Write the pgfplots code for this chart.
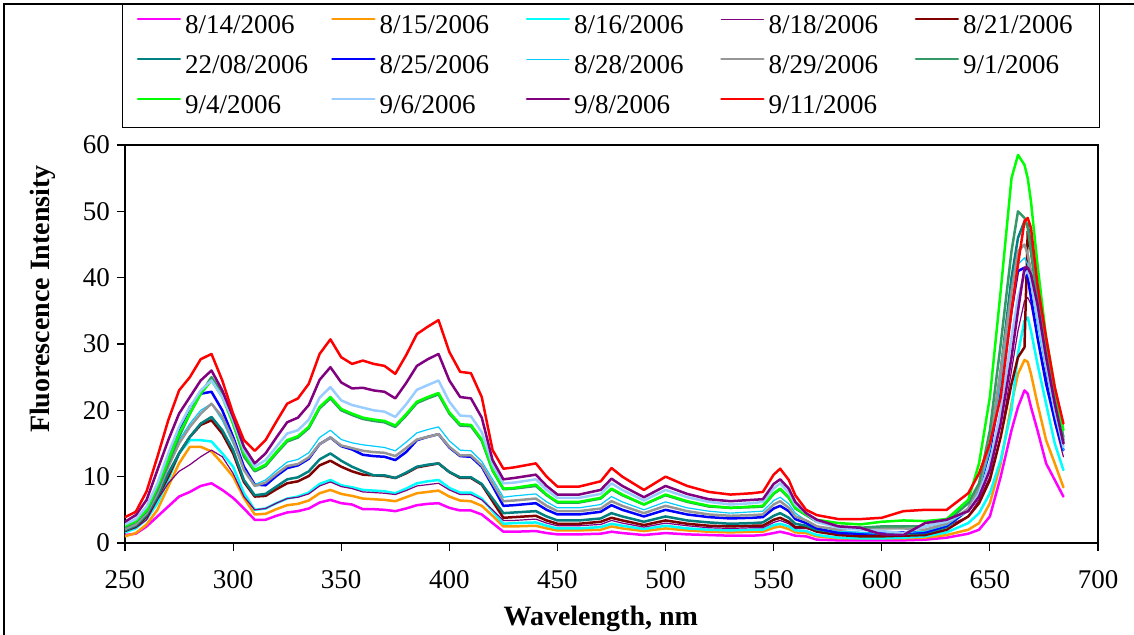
\documentclass[border=0pt]{standalone}
\usepackage{pgfplots}
\pgfplotsset{compat=1.18}
\usepackage{pgfplotstable}
\usepackage{fontspec}
\setmainfont{Liberation Serif}
\definecolor{cMag}{HTML}{FF00FF}
\definecolor{cOra}{HTML}{FF9900}
\definecolor{cCya}{HTML}{00FFFF}
\definecolor{cPts}{HTML}{800080}
\definecolor{cDre}{HTML}{800000}
\definecolor{cTea}{HTML}{008080}
\definecolor{cBlu}{HTML}{0000FF}
\definecolor{cSky}{HTML}{00CCFF}
\definecolor{cGra}{HTML}{969696}
\definecolor{cSea}{HTML}{339966}
\definecolor{cGre}{HTML}{00FF00}
\definecolor{cLbl}{HTML}{99CCFF}
\definecolor{cPur}{HTML}{800080}
\definecolor{cRed}{HTML}{FF0000}

\pgfplotstableread{
x     mag  ora  cya  pts  dre  tea  blu  sky  gra  sea  gre  lbl  pur  red
250   1.2  1.0  1.6  1.8  1.8  1.9  2.3  2.2  2.1  2.4  2.6  2.8  3.2  3.9
255   1.4  1.5  2.2  2.3  2.5  2.6  3.0  3.0  2.8  3.2  3.3  3.6  4.2  4.7
260   2.5  2.8  3.6  3.5  4.0  4.2  4.8  4.8  4.5  4.8  5.0  5.5  6.5  7.8
265   4.0  5.0  6.0  6.5  6.8  7.0  8.5  8.0  7.5  8.0  8.5  9.0  11.0 13.0
270   5.5  8.5  9.5  9.0  10.0 10.5 13.0 12.0 11.5 12.0 12.5 13.5 15.5 18.5
275   7.0  12.0 13.5 10.8 13.5 13.5 17.0 15.5 15.0 16.0 16.5 17.5 19.5 23.0
280   7.7  14.5 15.5 11.8 16.0 16.0 20.5 18.0 17.5 19.5 19.5 20.5 22.0 25.0
285   8.6  14.5 15.5 13.0 17.8 18.0 22.5 20.0 19.5 22.5 22.5 23.0 24.5 27.7
290   9.0  13.8 15.3 14.0 18.5 19.0 22.8 21.0 21.0 25.0 24.5 24.5 26.0 28.5
295   8.0  12.0 13.5 13.0 16.5 17.0 20.0 18.5 19.0 22.5 22.0 22.0 23.0 24.5
300   6.8  10.0 11.5 10.5 13.5 14.0 16.0 15.0 15.5 18.0 18.0 18.5 19.0 19.5
305   5.2  6.8  7.5  7.0  9.2  9.5  11.5 11.0 11.0 13.0 13.5 14.0 14.5 15.5
310   3.5  4.3  5.0  5.0  7.0  7.2  8.8  8.8  8.6  10.8 11.0 11.5 12.0 13.9
315   3.5  4.4  5.2  5.2  7.1  7.4  8.7  9.5  9.1  11.6 11.8 12.5 13.5 15.5
320   4.1  5.1  6.0  6.0  8.1  8.5  10.1 10.9 10.4 13.5 13.7 14.5 15.9 18.3
325   4.6  5.7  6.7  6.7  9.0  9.6  11.3 12.2 11.6 15.3 15.5 16.5 18.2 21.0
330   4.8  5.9  7.0  6.9  9.3  9.9  11.7 12.6 11.9 15.9 16.1 17.0 18.9 21.8
335   5.2  6.4  7.6  7.4  10.1 10.8 12.7 13.6 12.9 17.3 17.5 18.6 20.8 24.0
340   6.1  7.5  8.9  8.6  11.7 12.6 14.9 15.9 14.9 20.3 20.5 21.9 24.6 28.5
345   6.5  8.0  9.5  9.2  12.4 13.5 15.9 17.0 15.9 21.8 22.0 23.5 26.5 30.7
350   6.0  7.4  8.7  8.5  11.5 12.4 14.6 15.6 14.7 20.0 20.2 21.5 24.2 28.0
355   5.8  7.1  8.4  8.2  10.8 11.5 14.1 15.1 14.3 19.3 19.5 20.8 23.3 27.0
360   5.1  6.7  8.0  7.7  10.3 10.8 13.3 14.8 13.9 18.7 18.9 20.4 23.4 27.5
365   5.1  6.6  7.9  7.6  10.2 10.2 13.1 14.6 13.7 18.4 18.6 20.0 23.0 27.0
370   5.0  6.5  7.8  7.5  10.1 10.2 13.0 14.4 13.6 18.2 18.4 19.8 22.8 26.7
375   4.8  6.3  7.5  7.3  9.8  9.8  12.5 13.9 13.1 17.5 17.7 19.0 21.8 25.5
380   5.2  6.9  8.2  7.9  10.5 10.6 13.7 15.2 14.3 19.2 19.4 20.9 24.1 28.3
385   5.7  7.5  9.0  8.6  11.4 11.5 15.5 16.6 15.6 21.1 21.3 23.1 26.7 31.5
390   5.9  7.7  9.3  8.8  11.7 11.8 16.0 17.1 16.0 21.8 22.0 23.8 27.7 32.6
395   6.0  7.9  9.5  9.0  12.0 12.0 16.4 17.5 16.4 22.4 22.6 24.5 28.5 33.6
400   5.3  7.0  8.3  8.0  10.7 10.7 14.4 15.4 14.5 19.5 19.7 21.3 24.5 28.8
405   4.9  6.4  7.6  7.3  9.8  9.9  13.1 14.0 13.2 17.7 17.9 19.2 22.0 25.8
410   4.9  6.3  7.6  7.3  9.8  9.9  13.0 13.9 13.2 17.6 17.8 19.1 21.8 25.6
415   4.3  5.6  6.7  6.5  8.8  8.9  11.5 12.3 11.7 15.4 15.6 16.7 18.9 22.0
420   3.0  4.1  4.8  5.0  6.3  6.7  8.6  9.6  9.0  10.9 11.0 11.8 12.5 14.0
425   1.7  2.5  2.9  3.4  3.8  4.5  5.6  6.9  6.3  8.1  8.2  9.0  9.6  11.2
430   1.7  2.5  3.0  3.4  3.9  4.6  5.7  7.1  6.4  8.2  8.3  9.1  9.8  11.4
440   1.8  2.6  3.1  3.6  4.1  4.8  6.0  7.4  6.7  8.6  8.8  9.6  10.3 12.0
445   1.5  2.2  2.6  3.0  3.4  4.0  5.0  6.2  5.6  7.2  7.3  8.0  8.6  10.0
450   1.3  1.9  2.2  2.6  2.9  3.4  4.3  5.3  4.8  6.1  6.2  6.8  7.3  8.5
460   1.3  1.9  2.2  2.6  2.9  3.4  4.3  5.3  4.8  6.1  6.2  6.8  7.3  8.5
470   1.4  2.0  2.4  2.8  3.2  3.7  4.7  5.8  5.2  6.7  6.8  7.4  8.0  9.3
475   1.7  2.5  2.9  3.4  3.8  4.5  5.7  7.0  6.3  8.1  8.2  9.0  9.7  11.3
480   1.5  2.2  2.6  3.0  3.4  4.0  5.0  6.2  5.6  7.2  7.3  8.0  8.6  10.0
490   1.2  1.8  2.1  2.4  2.7  3.2  4.0  5.0  4.5  5.8  5.8  6.4  6.9  8.0
500   1.5  2.2  2.6  3.0  3.4  4.0  5.0  6.2  5.6  7.2  7.3  8.0  8.6  10.0
510   1.3  1.9  2.2  2.6  2.9  3.4  4.3  5.3  4.8  6.2  6.3  6.9  7.4  8.6
520   1.2  1.7  2.0  2.3  2.6  3.1  3.9  4.8  4.3  5.5  5.6  6.2  6.6  7.7
530   1.1  1.6  1.9  2.2  2.5  2.9  3.7  4.5  4.1  5.3  5.3  5.8  6.3  7.3
540   1.1  1.7  2.0  2.3  2.6  3.0  3.8  4.7  4.2  5.4  5.5  6.0  6.5  7.5
545   1.2  1.7  2.0  2.3  2.6  3.1  3.9  4.8  4.3  5.5  5.6  6.2  6.6  7.7
550   1.5  2.3  2.7  3.1  3.5  4.1  5.2  6.4  5.8  7.4  7.5  8.2  8.9  10.3
553   1.7  2.5  2.9  3.4  3.8  4.5  5.6  6.9  6.3  8.1  8.2  9.0  9.6  11.2
557   1.4  2.1  2.5  2.9  3.2  3.8  4.8  5.9  5.3  6.8  6.9  7.6  8.2  9.5
560   1.1  1.6  1.9  2.2  2.4  2.9  3.6  4.5  4.0  5.2  5.3  5.8  6.2  7.2
565   1.0  1.5  1.8  2.2  2.4  2.6  3.0  3.4  3.4  4.2  4.3  4.5  4.5  5.0
570   0.5  1.0  1.2  1.7  1.7  2.0  2.2  2.5  2.5  3.2  3.5  3.2  3.5  4.2
580   0.4  0.7  0.8  1.2  1.2  1.6  1.5  1.8  2.0  2.5  3.0  2.3  2.5  3.6
590   0.4  0.7  0.7  1.2  1.0  1.5  1.4  1.6  2.2  2.3  2.8  2.0  2.3  3.6
600   0.4  0.7  0.7  1.2  1.0  1.4  1.5  1.4  2.2  2.5  3.2  1.8  1.3  3.8
610   0.4  0.7  0.8  1.2  1.1  1.4  1.6  1.5  2.2  2.5  3.4  1.5  1.2  4.8
620   0.5  0.8  1.0  1.5  1.2  1.5  1.6  1.8  2.0  2.5  3.3  2.5  3.0  5.0
630   0.8  1.2  1.6  2.5  2.0  2.4  2.6  2.7  2.9  3.2  3.6  3.2  3.5  5.0
640   1.4  2.0  3.0  4.0  4.0  5.0  5.0  5.0  5.2  6.0  6.5  4.8  4.8  7.5
645   2.0  3.0  4.5  6.5  6.0  8.5  8.0  8.0  8.5  9.0  12.0 7.5  7.0  10.5
650   4.0  6.0  7.5  10.0 9.5  14.0 14.0 14.0 15.0 17.0 22.0 12.0 11.0 15.0
655   10.0 12.0 12.5 16.0 16.0 26.0 23.0 24.0 26.0 30.0 38.0 20.0 18.0 22.0
660   17.0 21.0 20.0 26.0 24.0 40.0 35.0 36.0 38.0 44.0 55.0 31.0 28.0 35.0
663   20.5 25.5 28.6 32.0 28.0 46.0 41.0 42.0 44.0 50.0 58.5 37.0 35.0 42.0
666   23.0 27.6 33.5 36.5 29.5 48.5 41.5 43.0 45.0 49.0 57.0 40.5 41.5 48.5
667.5 22.5 27.3 34.0 37.0 47.0 48.0 40.0 42.0 43.5 47.5 55.0 41.0 41.5 49.0
669   20.5 25.5 32.0 36.0 44.0 45.0 37.0 39.0 41.0 44.0 51.5 39.5 40.5 47.5
672   17.0 21.0 27.0 31.0 37.0 38.0 31.0 33.0 35.0 37.0 42.0 34.0 36.0 39.0
676   12.0 15.5 21.0 25.0 28.0 29.0 24.0 26.0 27.0 29.0 31.0 27.0 28.0 31.0
680   9.5  12.0 15.0 18.0 21.0 22.0 18.5 19.5 21.0 22.0 23.5 20.0 21.0 23.5
684   7.0  8.4  11.0 13.0 15.0 15.5 14.0 14.0 15.0 16.0 17.0 14.5 15.0 18.0
}\spectra

\newcommand{\lgd}[1]{\makebox[59pt][l]{#1}}

\begin{document}
\begin{tikzpicture}
\useasboundingbox (-62.5pt,-46pt) rectangle (504.5pt,271.5pt);
\begin{axis}[
  at={(0,0)}, anchor=south west,
  scale only axis, width=486.5pt, height=199pt,
  xmin=250, xmax=700, ymin=0, ymax=60,
  xtick={250,300,...,700}, ytick={0,10,...,60},
  tick align=outside, major tick length=4pt,
  xtick pos=bottom, ytick pos=left,
  axis line style={line width=0.6pt},
  every tick/.style={black, line width=0.6pt},
  /pgf/number format/assume math mode=true,
  tick label style={font=\fontsize{13.5}{15}\selectfont},
  xticklabel style={yshift=-6pt},
  xlabel={Wavelength, nm},
  ylabel={Fluorescence Intensity},
  label style={font=\fontsize{14}{16}\selectfont\bfseries},
  xlabel style={at={(axis description cs:0.489,-0.191)}, anchor=center},
  ylabel style={at={(axis description cs:-0.084,0.613)}, anchor=center},
  legend columns=5,
  legend image code/.code={\draw[#1] (0pt,3.5pt) -- (21pt,3.5pt);},
  legend style={at={(axis description cs:-0.003,1.354)}, anchor=north west,
    draw=black, line width=0.6pt,
    font=\fontsize{13.5}{15}\selectfont,
    inner xsep=7pt, inner ysep=3.5pt, row sep=5.5pt,
    /tikz/every even column/.append style={column sep=12pt},
    cells={anchor=west}},
  every axis plot/.append style={line join=round, line cap=round},
]
\addplot[cMag, line width=1.25pt] table[x=x,y=mag]{\spectra};
\addlegendentry{\lgd{8/14/2006}}
\addplot[cOra, line width=1.25pt] table[x=x,y=ora]{\spectra};
\addlegendentry{\lgd{8/15/2006}}
\addplot[cCya, line width=1.25pt] table[x=x,y=cya]{\spectra};
\addlegendentry{\lgd{8/16/2006}}
\addplot[cPts, line width=0.6pt] table[x=x,y=pts]{\spectra};
\addlegendentry{\lgd{8/18/2006}}
\addplot[cDre, line width=1.25pt] table[x=x,y=dre]{\spectra};
\addlegendentry{\lgd{8/21/2006}}
\addplot[cTea, line width=1.25pt] table[x=x,y=tea]{\spectra};
\addlegendentry{\lgd{22/08/2006}}
\addplot[cBlu, line width=1.25pt] table[x=x,y=blu]{\spectra};
\addlegendentry{\lgd{8/25/2006}}
\addplot[cSky, line width=0.6pt] table[x=x,y=sky]{\spectra};
\addlegendentry{\lgd{8/28/2006}}
\addplot[cGra, line width=1.25pt] table[x=x,y=gra]{\spectra};
\addlegendentry{\lgd{8/29/2006}}
\addplot[cSea, line width=1.25pt] table[x=x,y=sea]{\spectra};
\addlegendentry{\lgd{9/1/2006}}
\addplot[cGre, line width=1.25pt] table[x=x,y=gre]{\spectra};
\addlegendentry{\lgd{9/4/2006}}
\addplot[cLbl, line width=1.25pt] table[x=x,y=lbl]{\spectra};
\addlegendentry{\lgd{9/6/2006}}
\addplot[cPur, line width=1.25pt] table[x=x,y=pur]{\spectra};
\addlegendentry{\lgd{9/8/2006}}
\addplot[cRed, line width=1.25pt] table[x=x,y=red]{\spectra};
\addlegendentry{\lgd{9/11/2006}}
\end{axis}
\draw[line width=0.6pt] (-60.5pt,-46pt) -- (-60.5pt,269.5pt) -- (504.5pt,269.5pt);
\end{tikzpicture}
\end{document}
